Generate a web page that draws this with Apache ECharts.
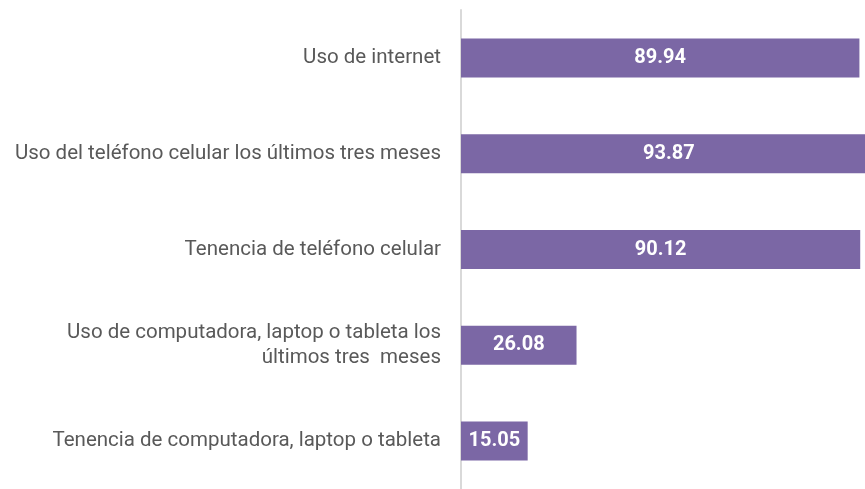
<!DOCTYPE html>
<html>
<head>
<meta charset="utf-8">
<script src="https://cdn.jsdelivr.net/npm/echarts@6/dist/echarts.min.js"></script>
<style>
  html, body { margin: 0; padding: 0; background: #fff; }
  #chart { width: 865px; height: 489px; }
</style>
</head>
<body>
<div id="chart"></div>
<script>
var categories = [
  'Tenencia de computadora, laptop o tableta',
  'Uso de computadora, laptop o tableta los\núltimos tres  meses',
  'Tenencia de teléfono celular',
  'Uso del teléfono celular los últimos tres meses',
  'Uso de internet'
];
var values = [15.05, 26.08, 90.12, 93.87, 89.94];

var myChart = echarts.init(document.getElementById('chart'));

var option = {
  animation: false,
  grid: {
    left: 461,
    right: 0,
    top: 10,
    bottom: -5,
    containLabel: false
  },
  xAxis: {
    type: 'value',
    min: 0,
    max: 91.2,
    show: false
  },
  yAxis: {
    type: 'category',
    data: categories,
    axisLine: {
      show: true,
      lineStyle: { color: '#d9d9d9', width: 2 }
    },
    axisTick: { show: false },
    axisLabel: {
      margin: 20,
      fontFamily: 'Roboto',
      fontSize: 20.5,
      color: '#595959',
      lineHeight: 25,
      align: 'right'
    }
  },
  series: [{
    type: 'bar',
    data: values,
    barWidth: 39,
    clip: false,
    itemStyle: { color: '#7b67a5' },
    label: {
      show: true,
      position: 'inside',
      fontFamily: 'Roboto',
      fontSize: 20,
      fontWeight: 'bold',
      color: '#fff',
      formatter: function (p) { return p.value.toFixed(2); }
    }
  }]
};

option && myChart.setOption(option);
</script>
</body>
</html>
